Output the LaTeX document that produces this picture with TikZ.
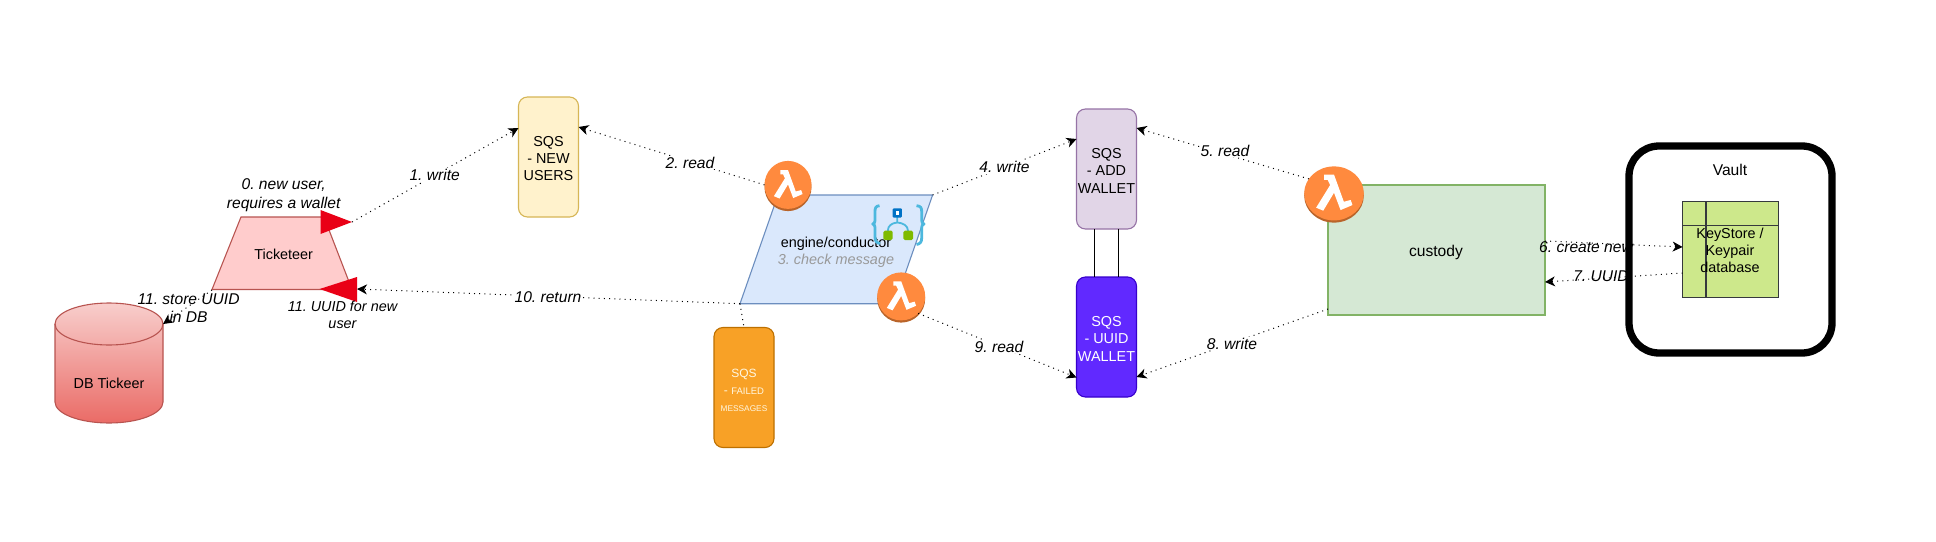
\documentclass[tikz,border=0pt]{standalone}
\usepackage{fontspec}
\setmainfont{Liberation Sans}
\usetikzlibrary{arrows.meta,calc,shapes.geometric}
\definecolor{lamorange}{HTML}{FF8A3E}
\definecolor{lamdark}{HTML}{B9642A}
\definecolor{redtip}{HTML}{E90016}
\definecolor{iconblue}{HTML}{4DB8DE}
\definecolor{iconnavy}{HTML}{0072C6}
\definecolor{icongreen}{HTML}{7FBA00}
\definecolor{dbedge}{HTML}{B85450}
\definecolor{dbtop}{HTML}{F8CECC}
\definecolor{dbbot}{HTML}{EA6B66}
\definecolor{tickfill}{HTML}{FFCCCC}
\definecolor{ksedge}{HTML}{36393D}
\newcommand{\dnA}{\rule{0pt}{13.5pt}}
\newcommand{\dnB}{\rule{0pt}{13.6pt}}
\tikzset{
  x=1pt,y=-1pt,
  every node/.style={font=\fontsize{14.4}{17.3}\selectfont,align=center,outer sep=0pt,inner sep=0pt},
  box/.style={draw,line width=1.1pt,rounded corners=9pt,minimum width=60pt,minimum height=120pt},
  flat/.style={draw,line width=1.1pt,sharp corners},
  flow/.style={line width=1pt,dash pattern=on 1pt off 4.2pt,-{Stealth[length=10pt,width=10pt,inset=3pt]}},
  plainflow/.style={line width=1pt,dash pattern=on 1pt off 4.2pt},
  edgelabel/.style={font=\fontsize{15.6}{18.7}\selectfont\itshape,fill=white,inner sep=1pt},
  overlabel/.style={font=\fontsize{15.6}{18.7}\selectfont\itshape},
  redmark/.style={fill=redtip,draw=none},
}
\newcommand{\lambdaicon}[5]{%
  \fill[lamdark] (#2,#3+1.6) ellipse[x radius=#4,y radius=#5];
  \node[ellipse,fill=lamorange,minimum width=#4*2pt,minimum height=#5*2pt] (#1) at (#2,#3-0.6) {};
  \begin{scope}[shift={(#2,#3-0.6)},x=#4 pt,y=-#4 pt]
    \fill[white] (-.33,-.63) -- (0,-.63) -- (.33,.28) -- (.56,.22) -- (.62,.39) -- (.22,.56) -- (0,-.02) -- (-.36,.58) -- (-.60,.48) -- (-.13,-.28) -- (-.21,-.45) -- (-.33,-.45) -- cycle;
  \end{scope}}
\begin{document}
\begin{tikzpicture}
\frenchspacing
\useasboundingbox (0,0) rectangle (1936,541);
\fill[white] (0,0) rectangle (1936,541);

% database cylinder
\path[draw=dbedge,line width=1.1pt,top color=dbtop,bottom color=dbbot]
  (55,324) .. controls (55,312.4) and (79.2,303) .. (109,303) .. controls (138.8,303) and (163,312.4) .. (163,324)
  -- (163,402) .. controls (163,413.6) and (138.8,423) .. (109,423) .. controls (79.2,423) and (55,413.6) .. (55,402) -- cycle;
\draw[line width=1.1pt,draw=dbedge]
  (55,324) .. controls (55,335.6) and (79.2,345) .. (109,345) .. controls (138.8,345) and (163,335.6) .. (163,324);
\node (db) at (109,383) {DB Tickeer};
\coordinate (dbin) at (163,324);

% Ticketeer
\draw[line width=1.1pt,draw=dbedge,fill=tickfill]
  (241,217) -- (324,217) -- (352,289.5) -- (212,289.5) -- cycle;
\node (tick) at (283.7,254) {Ticketeer};
\coordinate (tickout) at (352,222);
\coordinate (tickin) at (357,289);
\coordinate (tickdb) at (212,290);

% queues
\node[box,draw={rgb,255:red,214;green,182;blue,86},fill={rgb,255:red,255;green,242;blue,204}] (sqsnew) at (548.5,157) {\dnA SQS\\- NEW\\USERS};
\node[box,draw={rgb,255:red,150;green,115;blue,166},fill={rgb,255:red,225;green,213;blue,231}] (sqsadd) at (1106.5,169) {\dnA SQS\\- ADD\\WALLET};
\node[box,draw={rgb,255:red,55;green,0;blue,204},fill={rgb,255:red,97;green,41;blue,255},text=white] (sqsuuid) at (1106.5,337) {\dnA SQS\\- UUID\\WALLET};
\node[box,draw={rgb,255:red,189;green,112;blue,0},fill={rgb,255:red,248;green,161;blue,38},text={rgb,255:red,255;green,247;blue,225},font=\fontsize{12}{17}\selectfont] (sqsfail) at (744,387.5) {\dnB SQS\\- {\fontsize{9.5}{17}\selectfont FAILED}\\{\fontsize{8.3}{17}\selectfont MESSAGES}};
\draw[line width=1pt] ([xshift=-12.5pt]sqsadd.south) -- ([xshift=-12.5pt]sqsuuid.north);
\draw[line width=1pt] ([xshift=11.5pt]sqsadd.south) -- ([xshift=11.5pt]sqsuuid.north);

% engine
\draw[line width=1.1pt,draw={rgb,255:red,108;green,142;blue,191},fill={rgb,255:red,218;green,232;blue,252}]
  (778,195) -- (932.6,195) -- (894.7,303.7) -- (740,303.7) -- cycle;
\node (engine) at (836,252) {engine/conductor\\{\itshape\color[HTML]{999999}3. check message}};
\coordinate (engtr) at (932.6,195);
\coordinate (engbl) at (740,303.7);

% workflow icon
\begin{scope}[shift={(850,180)}]
  \draw[iconblue,line width=2.8pt,line join=round] (29.5,25.7) .. controls (25.5,26) and (25,28) .. (25,32) -- (25,40.5) .. controls (25,42.5) and (24.2,43.5) .. (22.7,44) .. controls (24.2,44.5) and (25,45.5) .. (25,47.5) -- (25,57) .. controls (25,61) and (26.5,63) .. (30,63.5);
  \draw[iconblue,line width=2.8pt,line join=round] (66.5,25.7) .. controls (71,26) and (71.7,28) .. (71.7,32) -- (71.7,40.5) .. controls (71.7,42.5) and (72.5,43.5) .. (74,44) .. controls (72.5,44.5) and (71.7,45.5) .. (71.7,47.5) -- (71.7,58) .. controls (71.7,62) and (70,64) .. (66.5,64.5);
  \draw[iconblue,line width=1.8pt] (47.3,36) -- (47.3,42.5) (37.8,51) .. controls (37.8,45.5) and (42,43) .. (47.3,42.5) .. controls (53,43) and (58,45.5) .. (58,51);
  \fill[iconnavy,rounded corners=1pt] (42.7,28.3) rectangle (51.9,37.5);
  \fill[white] (45.7,31.3) rectangle (48.9,34.5);
  \fill[icongreen,rounded corners=1.5pt] (33.3,50.7) rectangle (42.7,60);
  \fill[icongreen,rounded corners=1.5pt] (53.3,50.7) rectangle (63,60);
\end{scope}

% lambdas
\lambdaicon{lamA}{788}{185.5}{23.5}{24}
\lambdaicon{lamB}{901.2}{297}{24}{24}
% custody
\node[flat,draw={rgb,255:red,130;green,179;blue,102},fill={rgb,255:red,213;green,232;blue,212},minimum width=217pt,minimum height=130pt] (custody) at (1436.5,250) {};
\node[font=\fontsize{15.6}{18.7}\selectfont] (custodytext) at (1436,252) {custody};
\lambdaicon{lamC}{1334}{194}{29.8}{27}

% keystore
\node[flat,draw=ksedge,fill={rgb,255:red,205;green,232;blue,139},minimum width=96pt,minimum height=96.5pt] (keys) at (1730.6,249.3) {};
\draw[line width=1.1pt,draw=ksedge] (1706,201) -- (1706,297.5) (1682.6,225.7) -- (1778.6,225.7);
\node (keystext) at (1730,250.5) {KeyStore /\\Keypair\\database};

% connectors
\draw[flow] (tickout) -- ([yshift=29pt]sqsnew.west);
\draw[flow] (lamA.west) -- ([yshift=30pt]sqsnew.east);
\draw[flow] (engtr) -- ([yshift=30pt]sqsadd.west);
\draw[flow] (lamC.150) -- ([yshift=41pt]sqsadd.east);
\draw[flow] (custody.south west|-0,309) -- ([yshift=-40pt]sqsuuid.east);
\draw[flow] (lamB.-45) -- ([yshift=-40.5pt]sqsuuid.west);
\draw[flow] (custody.east|-0,241) -- (keys.west|-0,247);
\draw[flow] (keys.west|-0,273) -- (custody.east|-0,282);
\draw[flow] (engbl) -- (tickin);
\draw[plainflow] (engbl) -- (sqsfail.north);
\draw[flow] (tickdb) -- (dbin);

% red markers
\fill[redmark] (320.5,210) -- (352,222) -- (320.5,234) -- cycle;
\fill[redmark] (357,277) -- (319.6,289) -- (357,302) -- cycle;

% labels
\node[overlabel] (l0) at (283.7,195) {0. new user,\\requires a wallet};
\node[edgelabel] (l1) at (434.7,175) {1. write};
\node[edgelabel] (l2) at (690,162.7) {2. read};
\node[edgelabel] (l4) at (1004.5,167) {4. write};
\node[edgelabel] (l5) at (1225,150.5) {5. read};
\node[edgelabel] (l9) at (999,346.5) {9. read};
\node[edgelabel] (l8) at (1232,343.5) {8. write};
\node[edgelabel] (l10) at (548,297) {10. return};
\node[overlabel] (l11a) at (188.6,308) {11. store UUID\\in DB};
\node[overlabel,font=\fontsize{14.4}{17.3}\selectfont\itshape] (l11b) at (342.5,315) {11. UUID for new\\user};
\node[overlabel] (l6) at (1586,246.7) {6. create new};
\node[overlabel] (l7) at (1601,276.5) {7. UUID};

% vault
\node[draw,line width=7.3pt,rounded corners=30pt,minimum width=203pt,minimum height=207pt] (vault) at (1730.5,249.5) {};
\node[font=\fontsize{15.6}{18.7}\selectfont] (vaulttext) at (1730,170) {Vault};
\end{tikzpicture}
\end{document}
